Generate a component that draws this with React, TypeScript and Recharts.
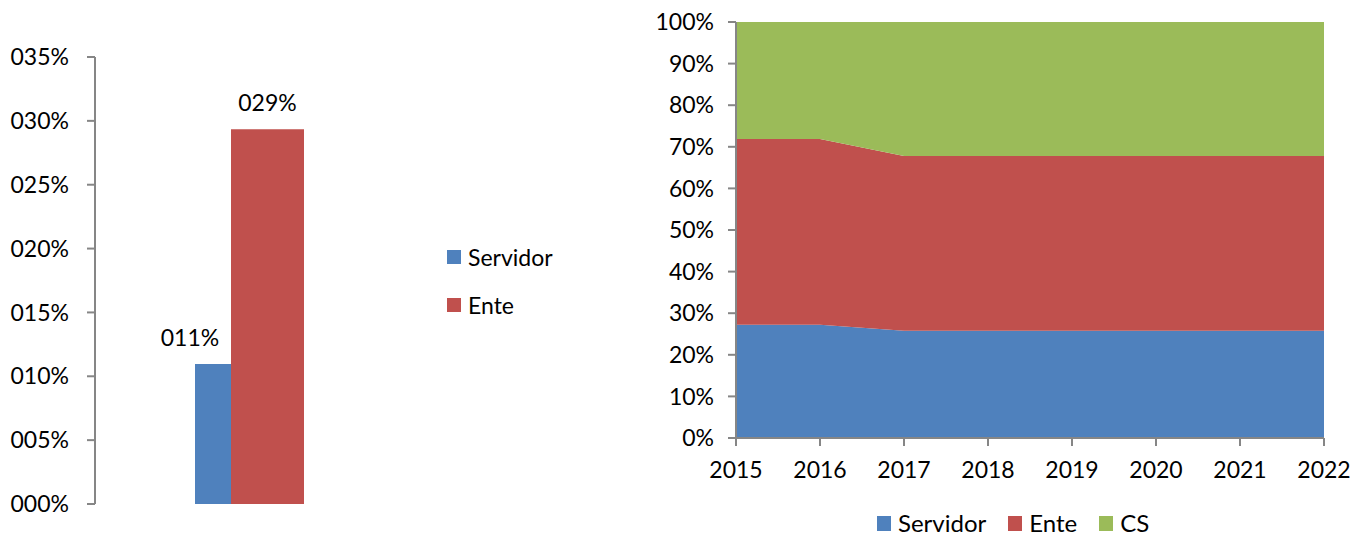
import React from 'react'
import {
  Area,
  AreaChart,
  Bar,
  BarChart,
  LabelList,
  XAxis,
  YAxis,
} from 'recharts'

// left chart: single group, two bars
const barCategories = ['']
const servidorRate = [0.1096]
const enteRate = [0.2934]
const rateTicks = [0, 0.05, 0.1, 0.15, 0.2, 0.25, 0.3, 0.35]

// right chart: share per year (stacked to 100%)
const years = ['2015', '2016', '2017', '2018', '2019', '2020', '2021', '2022']
const servidorShare = [27.2, 27.2, 25.8, 25.8, 25.8, 25.8, 25.8, 25.8]
const enteShare = [44.7, 44.7, 42.0, 42.0, 42.0, 42.0, 42.0, 42.0]
const csShare = [28.1, 28.1, 32.2, 32.2, 32.2, 32.2, 32.2, 32.2]
const shareTicks = [0, 0.1, 0.2, 0.3, 0.4, 0.5, 0.6, 0.7, 0.8, 0.9, 1]

const BLUE = '#4F81BD'
const RED = '#C0504D'
const GREEN = '#9BBB59'
const AXIS = '#868686'
const FONT = 'Lato, "Open Sans", sans-serif'
const FS = 23

const barSeries = [
  { key: 'Servidor', color: BLUE },
  { key: 'Ente', color: RED },
]
const areaSeries = [
  { key: 'Servidor', color: BLUE },
  { key: 'Ente', color: RED },
  { key: 'CS', color: GREEN },
]

const barData = barCategories.map((name, i) => ({
  name,
  Servidor: servidorRate[i],
  Ente: enteRate[i],
}))

const areaData = years.map((year, i) => ({
  year,
  Servidor: servidorShare[i],
  Ente: enteShare[i],
  CS: csShare[i],
}))

const fmtPad = (v: number) => `${String(Math.round(v * 100)).padStart(3, '0')}%`

function barLabel(dx: number) {
  return (props: any) => {
    const { x, y, width, value } = props
    return (
      <text
        x={x + width / 2 + dx}
        y={y - 27}
        textAnchor="middle"
        dominantBaseline="central"
        fontSize={FS}
        fontFamily={FONT}
        fill="#000"
      >
        {fmtPad(value)}
      </text>
    )
  }
}

export default function App() {
  return (
    <div style={{ position: 'fixed', left: 0, top: 0, width: 1353, height: 537, background: '#fff', overflow: 'hidden' }}>
      <div style={{ position: 'absolute', left: 0, top: 0 }}>
        <BarChart
          width={620}
          height={537}
          data={barData}
          margin={{ top: 57, right: 216, left: 0, bottom: 33 }}
          barGap={0}
        >
          <XAxis dataKey="name" hide />
          <YAxis
            width={95}
            domain={[0, 0.35]}
            ticks={rateTicks}
            tickFormatter={fmtPad}
            axisLine={{ stroke: AXIS, strokeWidth: 2 }}
            tickLine={{ stroke: AXIS, strokeWidth: 2 }}
            tickSize={8}
            tickMargin={18}
            tick={{ fill: '#000', fontSize: FS, fontFamily: FONT }}
            interval={0}
          />
          <Bar dataKey="Servidor" fill={BLUE} barSize={36} isAnimationActive={false}>
            <LabelList dataKey="Servidor" content={barLabel(-23)} />
          </Bar>
          <Bar dataKey="Ente" fill={RED} barSize={73} isAnimationActive={false}>
            <LabelList dataKey="Ente" content={barLabel(0)} />
          </Bar>
        </BarChart>
      </div>
      {/* side legend for the bar chart */}
      <div style={{ position: 'absolute', left: 447, top: 233, fontFamily: FONT, fontSize: FS, color: '#000' }}>
        {barSeries.map((s) => (
          <div key={s.key} style={{ display: 'flex', alignItems: 'center', height: 48 }}>
            <span style={{ width: 14, height: 14, background: s.color, marginRight: 7 }} />
            {s.key}
          </div>
        ))}
      </div>
      <div style={{ position: 'absolute', left: 640, top: 0 }}>
        <AreaChart
          width={713}
          height={537}
          data={areaData}
          stackOffset="expand"
          margin={{ top: 22, right: 29, left: 0, bottom: 49 }}
        >
          <XAxis
            dataKey="year"
            height={50}
            axisLine={{ stroke: AXIS, strokeWidth: 2 }}
            tickLine={{ stroke: AXIS, strokeWidth: 2 }}
            tickSize={8}
            tickMargin={16}
            tick={{ fill: '#000', fontSize: FS, fontFamily: FONT }}
            interval={0}
          />
          <YAxis
            width={96}
            domain={[0, 1]}
            ticks={shareTicks}
            tickFormatter={(v: number) => `${Math.round(v * 100)}%`}
            axisLine={{ stroke: AXIS, strokeWidth: 2 }}
            tickLine={{ stroke: AXIS, strokeWidth: 2 }}
            tickSize={8}
            tickMargin={14}
            tick={{ fill: '#000', fontSize: FS, fontFamily: FONT }}
            interval={0}
          />
          {areaSeries.map((s) => (
            <Area
              key={s.key}
              type="linear"
              dataKey={s.key}
              stackId="1"
              stroke="none"
              fill={s.color}
              fillOpacity={1}
              isAnimationActive={false}
            />
          ))}
        </AreaChart>
      </div>
      {/* bottom legend for the area chart */}
      <div
        style={{
          position: 'absolute',
          left: 877,
          top: 511,
          display: 'flex',
          fontFamily: FONT,
          fontSize: 24,
          lineHeight: '24px',
          color: '#000',
        }}
      >
        {areaSeries.map((s) => (
          <div key={s.key} style={{ display: 'flex', alignItems: 'center', marginRight: 22 }}>
            <span style={{ width: 14, height: 15, background: s.color, marginRight: 7 }} />
            {s.key}
          </div>
        ))}
      </div>
    </div>
  )
}
